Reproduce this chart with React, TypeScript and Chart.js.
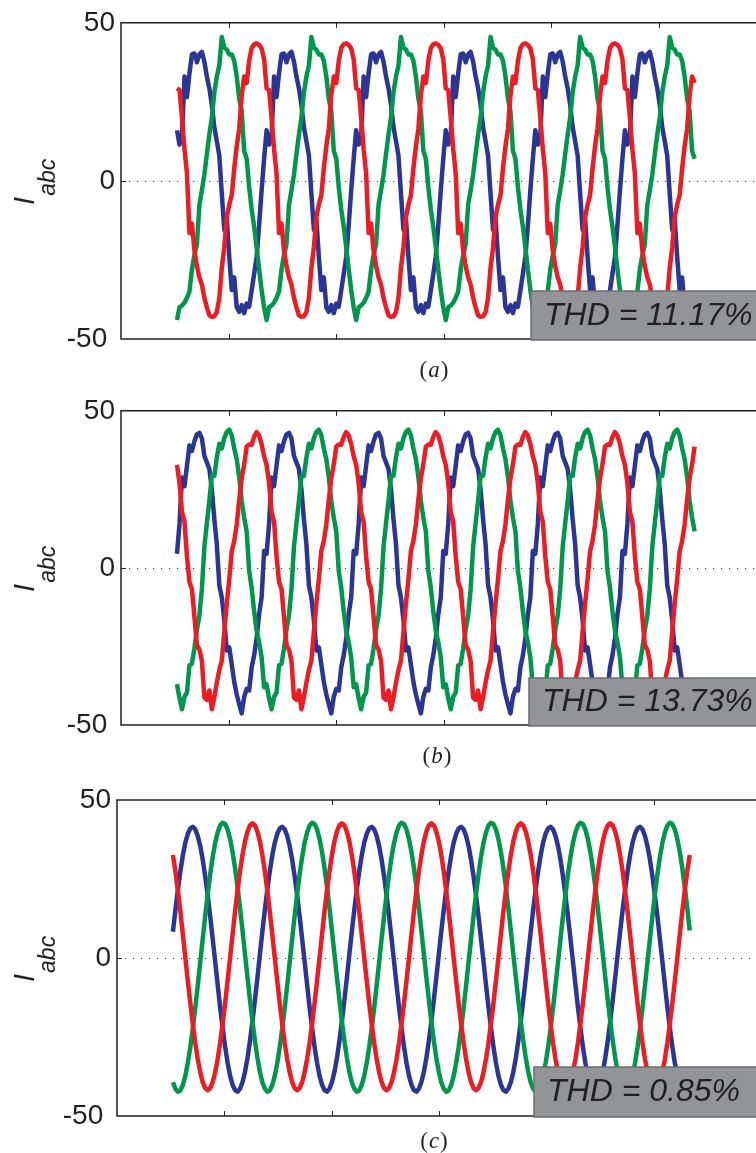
import React, { useEffect, useRef } from "react";
import { Chart, registerables } from "chart.js";

Chart.register(...registerables);

// ---------------- data ----------------
// time axis in ms, ticks every 20 ms (no labels shown)
const X_MIN_MS = 0;
const X_MAX_MS = 120;
const X_TICK_VALUES = [20, 40, 60, 80, 100, 120];
const Y_TICK_VALUES = [50, 0, -50];
const Y_TICK_LABELS = ["50", "0", "-50 "];

const FUNDAMENTAL_HZ = 60;
const START_MS = 10.42;
const SAMPLES_PER_CYCLE = 36;
const SAMPLE_COUNT = 209;

const PHASE_COLORS = ["#ec1c24", "#00964b", "#2b3595"]; // red, green, blue
const THD_TEXTS = ["THD = 11.17%", "THD = 13.73%", "THD = 0.85%"];
const CAPTION_LETTERS = ["a", "b", "c"];

// one fundamental cycle per phase (36 samples / cycle)
const A_BLUE = [16, 11.5, 14, 33, 26.5, 34, 40, 40.3, 37.5, 40, 40.8, 37.7, 33, 29.3, 24, 17, 12.6, 8, -4, -15.5, -12, -24, -34.5, -30.5, -40, -41.4, -39.3, -41.8, -38.8, -39.8, -34.6, -29.4, -24, -14, -3, 7];
const A_GREEN = [-44, -40, -39.4, -38.5, -37, -35, -28, -23.5, -20, -7.5, -3, 2, 8.5, 14.7, 20, 28, 33, 36.5, 45.5, 42.2, 41.5, 40, 40, 38, 33, 26, 22, 9.5, 7, -2, -9, -14.5, -21, -28, -34.5, -40];
const A_RED = [29.3, 28.7, 20, 10, 2.3, -16.5, -13.5, -22, -27, -30.5, -32.8, -37, -40, -42.5, -43, -42.8, -41.5, -37, -27.5, -21, -11.5, -7.5, -4.5, 4, 11, 16.5, 27, 33, 31, 38, 42, 43.2, 43.5, 43, 41.9, 38.5];

const B_BLUE = [4.5, 14, 28.8, 26, 32.5, 39, 37.2, 40.3, 42.5, 43, 41.2, 35.6, 33.6, 31.5, 25, 15.5, 7.5, -5.5, -9.4, -16.7, -26.3, -25.3, -30.8, -36.3, -40.3, -43.4, -46.3, -41, -38.5, -39, -31.6, -27.8, -22.3, -14.7, -9.4, 5.4];
const B_GREEN = [-37, -41.5, -45, -41, -39.7, -31, -30.5, -25.6, -19.7, -15.1, -6.7, 6.7, 14.2, 21.4, 29.3, 29.3, 35.1, 39.5, 38, 41.3, 43.3, 44, 42.2, 38, 34.6, 28.9, 21.3, 15.9, 11.6, -1, -6.3, -13.9, -20, -23.7, -28.5, -38];
const B_RED = [32.8, 27, 17.8, 14.7, 3.7, -4.5, -6.8, -15.6, -24.6, -26, -29.6, -41.3, -42, -39, -45, -41.1, -36.5, -32.5, -29.5, -20.4, -11.3, -3.6, 5.4, 8.6, 13.9, 21.7, 28.5, 33, 38.6, 39.3, 39.2, 41.7, 43.2, 42.1, 39.4, 35.5];

const C_BLUE = [8.3, 15.2, 21.7, 27.5, 32.5, 36.5, 39.3, 41.0, 41.5, 40.7, 38.6, 35.4, 31.1, 25.8, 19.8, 13.2, 6.1, -1.1, -8.4, -15.5, -22.1, -28.0, -33.1, -37.2, -40.1, -41.8, -42.3, -41.4, -39.3, -36.1, -31.7, -26.3, -20.2, -13.4, -6.3, 1.1];
const C_GREEN = [-39.3, -41.4, -42.3, -41.9, -40.2, -37.3, -33.2, -28.2, -22.3, -15.7, -8.6, -1.3, 6.1, 13.4, 20.2, 26.5, 31.9, 36.4, 39.7, 41.9, 42.8, 42.4, 40.7, 37.7, 33.6, 28.5, 22.6, 15.9, 8.7, 1.3, -6.0, -13.2, -20.0, -26.1, -31.5, -36.0];
const C_RED = [32.6, 27.4, 21.3, 14.6, 7.4, 0, -7.3, -14.3, -20.9, -26.9, -32.0, -36.2, -39.3, -41.2, -41.8, -41.2, -39.3, -36.2, -32.0, -26.9, -20.9, -14.3, -7.3, 0, 7.4, 14.6, 21.3, 27.4, 32.6, 36.9, 40.0, 42.0, 42.6, 42.0, 40.0, 36.9];

const PANEL_CYCLES = [
  [A_RED, A_GREEN, A_BLUE],
  [B_RED, B_GREEN, B_BLUE],
  [C_RED, C_GREEN, C_BLUE],
];

// ---------------- layout ----------------
const CANVAS_W = 800;
const INK = "#231f20";
const SANS = '"Liberation Sans", Arial, Helvetica, sans-serif';
const SERIF = '"Liberation Serif", "Times New Roman", serif';

type Layout = {
  top: number;
  height: number;
  padTop: number;
  yAxisWidth: number;
  xAxisHeight: number;
  padRight: number;
  thdLeft: number;
  thdHeight: number;
  thdTextBaseline: number;
  captionX: number;
  captionDy: number;
};

const LAYOUTS: Layout[] = [
  { top: 0, height: 388, padTop: 21, yAxisWidth: 121, xAxisHeight: 49, padRight: 34, thdLeft: 410, thdHeight: 48, thdTextBaseline: 14, captionX: 434, captionDy: 38 },
  { top: 388, height: 388, padTop: 21, yAxisWidth: 121, xAxisHeight: 51, padRight: 34, thdLeft: 408, thdHeight: 47, thdTextBaseline: 14, captionX: 437, captionDy: 38 },
  { top: 776, height: 377, padTop: 24, yAxisWidth: 117, xAxisHeight: 37, padRight: 39, thdLeft: 417, thdHeight: 49, thdTextBaseline: 15, captionX: 434, captionDy: 31.5 },
];

const SAMPLE_STEP_MS = 1000 / FUNDAMENTAL_HZ / SAMPLES_PER_CYCLE;
const SAMPLE_TIMES = Array.from({ length: SAMPLE_COUNT }, (_, i) => START_MS + i * SAMPLE_STEP_MS);

function tileCycle(cycle: number[]) {
  return SAMPLE_TIMES.map((t, i) => ({ x: t, y: cycle[i % cycle.length] }));
}

function makeDecor(layout: Layout, thd: string, letter: string) {
  return {
    id: "decor",
    beforeDatasetsDraw(chart: any) {
      const { ctx, chartArea: a, scales } = chart;
      const y0 = Math.round(scales.y.getPixelForValue(0)) + 0.5;
      ctx.save();
      ctx.strokeStyle = "#444";
      ctx.lineWidth = 1;
      ctx.setLineDash([1.2, 6.8]);
      ctx.beginPath();
      ctx.moveTo(a.left, y0);
      ctx.lineTo(a.right, y0);
      ctx.stroke();
      ctx.restore();
    },
    afterDatasetsDraw(chart: any) {
      const { ctx, chartArea: a, scales } = chart;
      ctx.save();
      // frame
      ctx.strokeStyle = INK;
      ctx.lineWidth = 1.5;
      ctx.beginPath();
      ctx.rect(a.left, a.top, a.right - a.left, a.bottom - a.top);
      ctx.stroke();
      // inner tick marks
      ctx.lineWidth = 1;
      ctx.beginPath();
      for (const v of X_TICK_VALUES) {
        const x = Math.round(scales.x.getPixelForValue(v)) + 0.5;
        ctx.moveTo(x, a.top);
        ctx.lineTo(x, a.top + 5);
        ctx.moveTo(x, a.bottom);
        ctx.lineTo(x, a.bottom - 5);
      }
      const yz = Math.round(scales.y.getPixelForValue(0)) + 0.5;
      ctx.moveTo(a.left, yz);
      ctx.lineTo(a.left + 5, yz);
      ctx.stroke();

      // THD box
      const bx = a.left + layout.thdLeft;
      const by = a.bottom - layout.thdHeight;
      ctx.fillStyle = "#929497";
      ctx.fillRect(bx, by, CANVAS_W - bx + 10, layout.thdHeight + 1);
      ctx.strokeStyle = "#6d6e71";
      ctx.lineWidth = 1.5;
      ctx.strokeRect(bx, by, CANVAS_W - bx + 10, layout.thdHeight + 1);
      ctx.fillStyle = INK;
      ctx.font = `italic 32px ${SANS}`;
      ctx.textAlign = "left";
      ctx.textBaseline = "alphabetic";
      ctx.fillText(thd, bx + 13, a.bottom - layout.thdTextBaseline);

      // y-axis title I_abc
      const cy = (a.top + a.bottom) / 2;
      ctx.save();
      ctx.translate(34, cy + 24);
      ctx.rotate(-Math.PI / 2);
      ctx.font = `italic 29px ${SANS}`;
      ctx.fillText("I", 0, 0);
      const wI = ctx.measureText("I").width;
      ctx.font = `italic 23px ${SANS}`;
      ctx.fillText("abc", wI + 1, 21);
      ctx.restore();

      // caption (a)/(b)/(c)
      const fs = 23;
      ctx.font = `${fs}px ${SERIF}`;
      const wp = ctx.measureText("(").width;
      const wq = ctx.measureText(")").width;
      ctx.font = `italic ${fs}px ${SERIF}`;
      const wl = ctx.measureText(letter).width;
      const total = wp + wl + wq + 2;
      let cx = layout.captionX - total / 2;
      const base = a.bottom + layout.captionDy;
      ctx.font = `${fs}px ${SERIF}`;
      ctx.fillText("(", cx, base);
      cx += wp + 1;
      ctx.font = `italic ${fs}px ${SERIF}`;
      ctx.fillText(letter, cx, base);
      cx += wl + 1;
      ctx.font = `${fs}px ${SERIF}`;
      ctx.fillText(")", cx, base);
      ctx.restore();
    },
  };
}

function Panel({ index }: { index: number }) {
  const ref = useRef<HTMLCanvasElement | null>(null);
  const layout = LAYOUTS[index];

  useEffect(() => {
    if (!ref.current) return;
    const cycles = PANEL_CYCLES[index];
    const chart = new Chart(ref.current, {
      type: "line",
      data: {
        datasets: cycles.map((cycle, k) => ({
          data: tileCycle(cycle),
          borderColor: PHASE_COLORS[k],
          borderWidth: 4.5,
          pointRadius: 0,
          tension: 0,
          borderJoinStyle: "round" as const,
          fill: false,
        })),
      },
      options: {
        responsive: false,
        animation: false,
        events: [],
        layout: { padding: { top: layout.padTop, right: layout.padRight, left: 0, bottom: 0 } },
        plugins: { legend: { display: false }, tooltip: { enabled: false }, title: { display: false } },
        scales: {
          x: {
            type: "linear",
            min: X_MIN_MS,
            max: X_MAX_MS,
            ticks: { display: false, stepSize: 20 },
            grid: { display: false, drawTicks: false },
            border: { display: false },
            afterFit: (s: any) => {
              s.height = layout.xAxisHeight;
            },
          },
          y: {
            type: "linear",
            min: -50,
            max: 50,
            afterBuildTicks: (s: any) => {
              s.ticks = Y_TICK_VALUES.map((v) => ({ value: v }));
            },
            ticks: {
              padding: 6,
              color: INK,
              font: { family: SANS, size: 28 },
              callback: (v: any) => Y_TICK_LABELS[Y_TICK_VALUES.indexOf(Number(v))] ?? "",
            },
            grid: { display: false, drawTicks: false },
            border: { display: false },
            afterFit: (s: any) => {
              s.width = layout.yAxisWidth;
            },
          },
        },
      },
      plugins: [makeDecor(layout, THD_TEXTS[index], CAPTION_LETTERS[index])],
    });
    return () => chart.destroy();
  }, [index]);

  return (
    <canvas
      ref={ref}
      width={CANVAS_W}
      height={layout.height}
      style={{ position: "absolute", left: 0, top: layout.top, width: CANVAS_W, height: layout.height }}
    />
  );
}

export default function App() {
  return (
    <div
      style={{
        position: "absolute",
        left: 0,
        top: 0,
        width: 756,
        height: 1153,
        overflow: "hidden",
        background: "#fff",
      }}
    >
      <Panel index={0} />
      <Panel index={1} />
      <Panel index={2} />
    </div>
  );
}
